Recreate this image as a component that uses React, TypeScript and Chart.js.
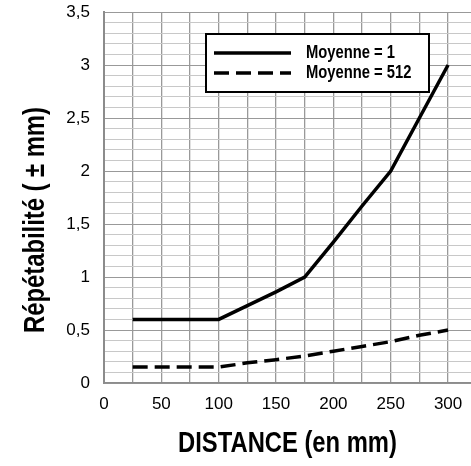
import React, { useEffect, useRef } from "react";
import { Chart, registerables } from "chart.js";

Chart.register(...registerables);

const distances = [25, 50, 75, 100, 125, 150, 175, 200, 225, 250, 275, 300];
const moyenne1 = [0.6, 0.6, 0.6, 0.6, 0.73, 0.86, 1.0, 1.33, 1.67, 2.0, 2.5, 3.0];
const moyenne512 = [0.15, 0.15, 0.15, 0.15, 0.19, 0.22, 0.255, 0.3, 0.345, 0.39, 0.45, 0.5];
const seriesLabels = ["Moyenne = 1", "Moyenne = 512"];
const xTitle = "DISTANCE (en mm)";
const yTitle = "Répétabilité ( ± mm)";

const SANS = "'Liberation Sans', Arial, sans-serif";
const NARROW_SCALE = 0.82;

function narrowText(ctx: any, text: string, x: number, y: number, size: number, rot: number) {
  ctx.save();
  ctx.translate(x, y);
  ctx.rotate(rot);
  ctx.scale(NARROW_SCALE, 1);
  ctx.font = `bold ${size}px ${SANS}`;
  ctx.fillStyle = "#000";
  ctx.textBaseline = "middle";
  ctx.fillText(text, 0, 0);
  ctx.restore();
}

const legendPlugin = {
  id: "boxLegend",
  afterDraw(chart: any) {
    const ctx = chart.ctx;
    const ds = chart.data.datasets;
    ctx.save();
    const bx = 206, by = 34, bw = 223, bh = 58;
    ctx.fillStyle = "#fff";
    ctx.fillRect(bx, by, bw, bh);
    ctx.strokeStyle = "#000";
    ctx.lineWidth = 2;
    ctx.strokeRect(bx, by, bw, bh);
    ds.forEach((d: any, i: number) => {
      const y = 53 + i * 20;
      ctx.beginPath();
      ctx.setLineDash(d.borderDash || []);
      ctx.lineWidth = d.borderWidth;
      ctx.strokeStyle = d.borderColor;
      ctx.moveTo(214, y);
      ctx.lineTo(291, y);
      ctx.stroke();
      ctx.setLineDash([]);
      ctx.textAlign = "left";
      narrowText(ctx, d.label, 306, y, 18, 0);
    });
    ctx.restore();
  },
};

const titlesPlugin = {
  id: "axisTitles",
  afterDraw(chart: any) {
    const ctx = chart.ctx;
    ctx.save();
    ctx.textAlign = "center";
    narrowText(ctx, yTitle, 36, 220, 29, -Math.PI / 2);
    narrowText(ctx, xTitle, 287.5, 444, 29, 0);
    ctx.restore();
  },
};

export default function App() {
  const ref = useRef<HTMLCanvasElement>(null);
  useEffect(() => {
    if (!ref.current) return;
    const chart = new Chart(ref.current, {
      type: "line",
      data: {
        datasets: [
          {
            label: seriesLabels[0],
            data: distances.map((x, i) => ({ x, y: moyenne1[i] })),
            borderColor: "#000",
            borderWidth: 3.5,
            pointRadius: 0,
            tension: 0,
            fill: false,
          },
          {
            label: seriesLabels[1],
            data: distances.map((x, i) => ({ x, y: moyenne512[i] })),
            borderColor: "#000",
            borderWidth: 3.5,
            borderDash: [15, 7],
            pointRadius: 0,
            tension: 0,
            fill: false,
          },
        ],
      },
      options: {
        animation: false,
        responsive: true,
        maintainAspectRatio: false,
        layout: { padding: { top: 0, right: 0, left: 0, bottom: 0 } },
        plugins: { legend: { display: false }, tooltip: { enabled: false } },
        scales: {
          x: {
            type: "linear",
            min: 0,
            max: 320,
            afterBuildTicks: (s: any) => {
              s.ticks = s.ticks.filter((t: any) => Math.abs(t.value % 25) < 1e-6);
            },
            afterFit: (s: any) => {
              s.height = 83;
              s.paddingRight = 0;
            },
            ticks: {
              stepSize: 25,
              includeBounds: false,
              autoSkip: false,
              maxRotation: 0,
              padding: 11,
              color: "#000",
              font: { family: SANS, size: 17 },
              callback: (v: any) => (Math.round(v) % 50 === 0 ? String(v) : ""),
            },
            grid: { color: "#999999", lineWidth: 1.3, drawTicks: false },
            border: { color: "#8c8c8c", width: 1.5 },
            title: { display: false },
          },
          y: {
            type: "linear",
            min: 0,
            max: 3.5,
            afterFit: (s: any) => {
              s.width = 104;
              s.paddingTop = 12;
              s.paddingBottom = 0;
            },
            ticks: {
              stepSize: 0.1,
              autoSkip: false,
              padding: 14,
              color: "#000",
              font: { family: SANS, size: 17 },
              callback: (v: any) => {
                const r = Math.round(Number(v) * 10);
                if (r % 5 !== 0) return "";
                return String(r / 10).replace(".", ",");
              },
            },
            grid: {
              drawTicks: false,
              lineWidth: 1,
              color: (c: any) => {
                const r = Math.round(c.tick.value * 10);
                return r % 5 === 0 ? "#999999" : "#c8c8c8";
              },
            },
            border: { color: "#8c8c8c", width: 2 },
          },
        },
      },
      plugins: [legendPlugin, titlesPlugin],
    });
    return () => chart.destroy();
  }, []);
  return (
    <div style={{ position: "fixed", left: 0, top: 0, width: 471, height: 466, background: "#fff" }}>
      <canvas ref={ref} />
    </div>
  );
}
